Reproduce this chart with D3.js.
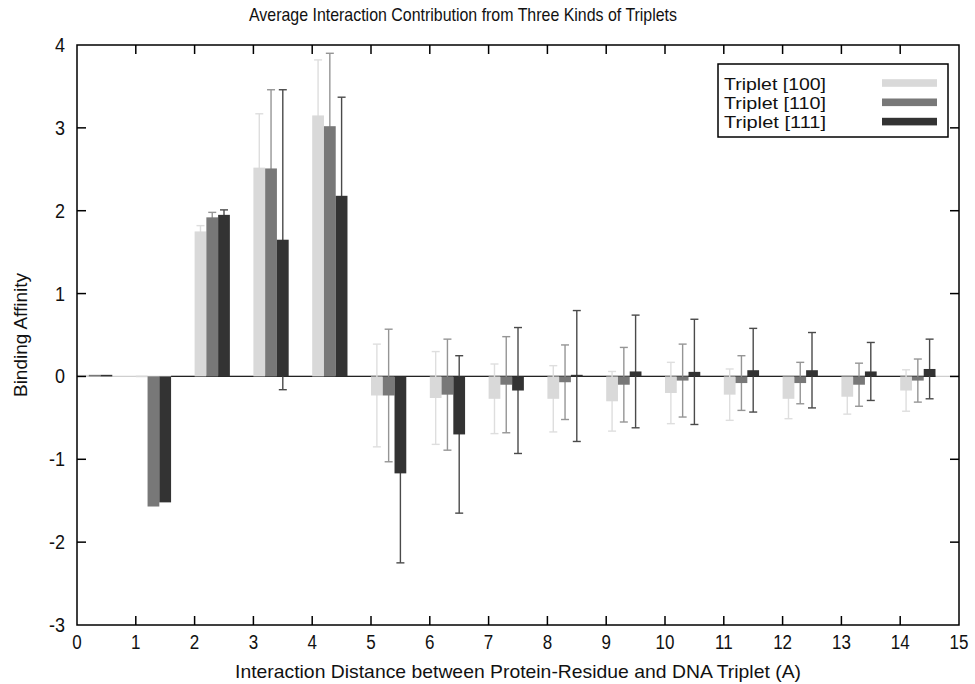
<!DOCTYPE html>
<html>
<head>
<meta charset="utf-8">
<script src="https://cdn.jsdelivr.net/npm/d3@7"></script>
<style>
  html, body { margin: 0; padding: 0; background: #fff; }
  svg { display: block; }
  text { font-family: "Liberation Sans", Arial, Helvetica, sans-serif; fill: #111; }
</style>
</head>
<body>
<svg id="chart" width="975" height="684"></svg>
<script>
// ---- Data ----
const groups = [0,1,2,3,4,5,6,7,8,9,10,11,12,13,14];
const seriesNames = ["Triplet [100]", "Triplet [110]", "Triplet [111]"];
const valuesT100 = [0.005, 0, 1.75, 2.52, 3.15, -0.23, -0.26, -0.27, -0.27, -0.30, -0.20, -0.22, -0.27, -0.245, -0.17];
const errorsT100 = [0, 0, 0.07, 0.65, 0.67, 0.62, 0.56, 0.42, 0.40, 0.36, 0.37, 0.31, 0.24, 0.21, 0.25];
const valuesT110 = [0.01, -1.57, 1.92, 2.51, 3.02, -0.23, -0.22, -0.10, -0.07, -0.10, -0.05, -0.08, -0.08, -0.10, -0.05];
const errorsT110 = [0, 0, 0.06, 0.95, 0.88, 0.80, 0.67, 0.58, 0.45, 0.45, 0.44, 0.33, 0.25, 0.26, 0.26];
const valuesT111 = [0.01, -1.52, 1.95, 1.65, 2.18, -1.17, -0.70, -0.17, 0.005, 0.06, 0.055, 0.075, 0.075, 0.06, 0.09];
const errorsT111 = [0, 0, 0.06, 1.81, 1.19, 1.08, 0.95, 0.76, 0.79, 0.68, 0.635, 0.505, 0.455, 0.35, 0.36];
const xTicks = [0,1,2,3,4,5,6,7,8,9,10,11,12,13,14,15];
const yTicks = [-3,-2,-1,0,1,2,3,4];

const title = "Average Interaction Contribution from Three Kinds of Triplets";
const xLabel = "Interaction Distance between Protein-Residue and DNA Triplet (A)";
const yLabel = "Binding Affinity";

// ---- Styles ----
const barColors = ["#d9d9d9", "#787878", "#333333"];
const errColors = ["#dedede", "#959595", "#4a4a4a"];
const barWidth = 0.2;
const stretch = 1.15;

const series = [
  {name: seriesNames[0], values: valuesT100, errors: errorsT100},
  {name: seriesNames[1], values: valuesT110, errors: errorsT110},
  {name: seriesNames[2], values: valuesT111, errors: errorsT111}
];

const svg = d3.select("#chart");
const margin = {left: 77, right: 16, top: 45, bottom: 59};
const W = 975, H = 684;

const x = d3.scaleLinear().domain([0, 15]).range([margin.left, W - margin.right]);
const y = d3.scaleLinear().domain([-3, 4]).range([H - margin.bottom, margin.top]);

function label(g, px, py, str, size, anchor, len, rotate, sy) {
  const s = sy === undefined ? stretch : sy;
  const t = g.append("text")
    .attr("transform", `translate(${px},${py})` + (rotate ? ` rotate(${rotate})` : "") + (s !== 1 ? ` scale(1,${s})` : ""))
    .attr("text-anchor", anchor)
    .style("font-size", size + "px")
    .text(str);
  if (len) t.attr("textLength", len).attr("lengthAdjust", "spacingAndGlyphs");
  return t;
}

// zero line
const zg = svg.append("g");
zg.append("line").attr("x1", x(0)).attr("x2", x(15)).attr("y1", y(0)).attr("y2", y(0))
  .attr("stroke", "#cfcfcf").attr("stroke-width", 1.3);
zg.append("line").attr("x1", x(1.6)).attr("x2", x(14.6)).attr("y1", y(0)).attr("y2", y(0))
  .attr("stroke", "#222").attr("stroke-width", 1.3);

// error bars (drawn beneath the bars)
const errLayer = svg.append("g");
const barLayer = svg.append("g");
series.forEach((s, i) => {
  const eg = errLayer.append("g").attr("stroke", errColors[i]).attr("stroke-width", 1.4).attr("fill", "none");
  groups.forEach(d => {
    const e = s.errors[d];
    if (!e) return;
    const cx = x(d + i * barWidth + barWidth / 2);
    const v = s.values[d];
    const y1 = y(v + e), y2 = y(v - e);
    eg.append("line").attr("x1", cx).attr("x2", cx).attr("y1", y1).attr("y2", y2);
    eg.append("line").attr("x1", cx - 4).attr("x2", cx + 4).attr("y1", y1).attr("y2", y1);
    eg.append("line").attr("x1", cx - 4).attr("x2", cx + 4).attr("y1", y2).attr("y2", y2);
  });
  barLayer.append("g").selectAll("rect").data(groups).enter().append("rect")
    .attr("x", d => x(d + i * barWidth))
    .attr("width", x(barWidth) - x(0))
    .attr("y", d => {
      const v = s.values[d];
      const h = Math.max(Math.abs(y(v) - y(0)), 1.6);
      return v >= 0 ? y(0) - h + (v === 0 ? 0.8 : 0) : y(0);
    })
    .attr("height", d => Math.max(Math.abs(y(s.values[d]) - y(0)), 1.6))
    .attr("fill", barColors[i]);
});

// frame and ticks
const ax = svg.append("g").attr("stroke", "#000").attr("stroke-width", 1.5);
ax.append("rect").attr("x", x(0)).attr("y", y(4)).attr("width", x(15) - x(0)).attr("height", y(-3) - y(4))
  .attr("fill", "none");
const tl = 9;
xTicks.forEach(t => {
  if (t === 0 || t === 15) return;
  ax.append("line").attr("x1", x(t)).attr("x2", x(t)).attr("y1", y(-3)).attr("y2", y(-3) - tl);
  ax.append("line").attr("x1", x(t)).attr("x2", x(t)).attr("y1", y(4)).attr("y2", y(4) + tl);
});
yTicks.forEach(t => {
  if (t === -3 || t === 4) return;
  ax.append("line").attr("x1", x(0)).attr("x2", x(0) + tl).attr("y1", y(t)).attr("y2", y(t));
  ax.append("line").attr("x1", x(15)).attr("x2", x(15) - tl).attr("y1", y(t)).attr("y2", y(t));
});

// tick labels
const tg = svg.append("g");
xTicks.forEach(t => label(tg, x(t), y(-3) + 24, String(t), 17, "middle"));
yTicks.forEach(t => label(tg, x(0) - 12, y(t) + 7, String(t), 18, "end"));

// titles
label(svg, 463, 21, title, 16, "middle", 428);
label(svg, (x(0) + x(15)) / 2, 678, xLabel, 16, "middle", 566);
label(svg, 27, 335, yLabel, 16, "middle", 124, -90);

// legend
const lg = svg.append("g");
lg.append("rect").attr("x", 718).attr("y", 64).attr("width", 230).attr("height", 73)
  .attr("fill", "#fff").attr("stroke", "#000").attr("stroke-width", 1.5);
series.forEach((s, i) => {
  const cy = 83 + i * 19.3;
  label(lg, 724, cy + 6.5, s.name, 17, "start", 102, 0, 1);
  lg.append("rect").attr("x", 882).attr("y", cy - 3.8).attr("width", 55).attr("height", 7.6)
    .attr("fill", barColors[i]);
});
</script>
</body>
</html>
